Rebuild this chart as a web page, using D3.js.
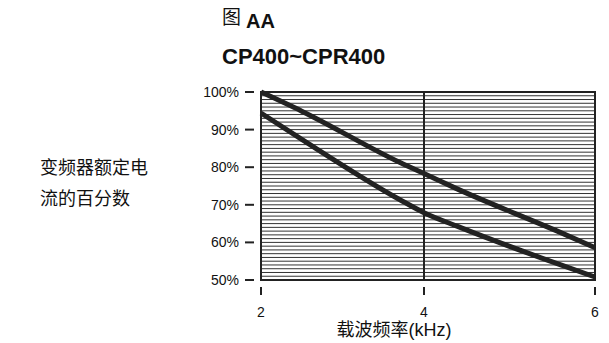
<!DOCTYPE html>
<html><head><meta charset="utf-8">
<script src="https://cdn.jsdelivr.net/npm/d3@7"></script>
<style>
html,body{margin:0;padding:0;background:#fff;}
svg{display:block;}
text{font-family:"Liberation Sans","Noto Sans CJK SC",sans-serif;fill:#111;}
</style></head>
<body>
<svg id="c" width="609" height="343"></svg>
<script>
const xTicks = [2, 4, 6];
const yTicks = [50, 60, 70, 80, 90, 100];
const yTickLabels = ["50%", "60%", "70%", "80%", "90%", "100%"];
const freq = [2, 2.5, 3.7, 4, 4.4, 5.6, 6];
const upper = [100, 94.9, 81.3, 78.3, 74.1, 62.6, 58.6];
const lower = [94.4, 87.4, 71.4, 67.9, 64.2, 54.0, 50.8];
const gridStep = d3.range(51, 100, 1);

const svg = d3.select("#c");
const x = d3.scaleLinear().domain([2, 4, 6]).range([261, 424, 595]);
const y = d3.scaleLinear().domain([50, 100]).range([280, 92]);

// titles
svg.append("text").attr("x", 222).attr("y", 24).attr("font-size", 19).text("图");
svg.append("text").attr("x", 246).attr("y", 28).attr("font-size", 20).attr("font-weight", "bold").text("AA");
svg.append("text").attr("x", 222).attr("y", 64).attr("font-size", 22).attr("font-weight", "bold")
  .text("CP400~CPR400");

// left label
svg.append("text").attr("x", 40).attr("y", 174).attr("font-size", 18).text("变频器额定电");
svg.append("text").attr("x", 40).attr("y", 205).attr("font-size", 18).text("流的百分数");

// grid
svg.append("g").selectAll("line").data(gridStep).join("line")
  .attr("x1", x(2)).attr("x2", x(6))
  .attr("y1", d => y(d)).attr("y2", d => y(d))
  .attr("stroke", "#333").attr("stroke-width", 1);

// vertical line at 4
svg.append("line").attr("x1", x(4)).attr("x2", x(4)).attr("y1", y(100)).attr("y2", y(50))
  .attr("stroke", "#222").attr("stroke-width", 2);

// frame
svg.append("rect").attr("x", x(2)).attr("y", y(100)).attr("width", x(6) - x(2)).attr("height", y(50) - y(100))
  .attr("fill", "none").attr("stroke", "#222").attr("stroke-width", 2);

// y ticks
const yt = svg.append("g");
yt.selectAll("line").data(yTicks).join("line")
  .attr("x1", 245).attr("x2", 254).attr("y1", d => y(d)).attr("y2", d => y(d))
  .attr("stroke", "#222").attr("stroke-width", 2);
yt.selectAll("text").data(yTicks).join("text")
  .attr("x", 239).attr("y", d => y(d)).attr("dy", "0.35em").attr("text-anchor", "end")
  .attr("font-size", 14).text((d, i) => yTickLabels[i]);

// x ticks
const xt = svg.append("g");
xt.selectAll("line").data(xTicks).join("line")
  .attr("x1", d => x(d)).attr("x2", d => x(d)).attr("y1", 287).attr("y2", 295)
  .attr("stroke", "#222").attr("stroke-width", 2);
xt.selectAll("text").data(xTicks).join("text")
  .attr("x", d => x(d)).attr("y", 317).attr("text-anchor", "middle")
  .attr("font-size", 14).text(d => d);

svg.append("text").attr("x", 394).attr("y", 336).attr("text-anchor", "middle")
  .attr("font-size", 18).text("载波频率(kHz)");

// curves
const line = d3.line().x((d, i) => x(freq[i])).y(d => y(d)).curve(d3.curveMonotoneX);
[upper, lower].forEach(s => {
  svg.append("path").datum(s).attr("d", line).attr("fill", "none")
    .attr("stroke", "#222").attr("stroke-width", 5).attr("stroke-linecap", "butt");
});
</script>
</body></html>
